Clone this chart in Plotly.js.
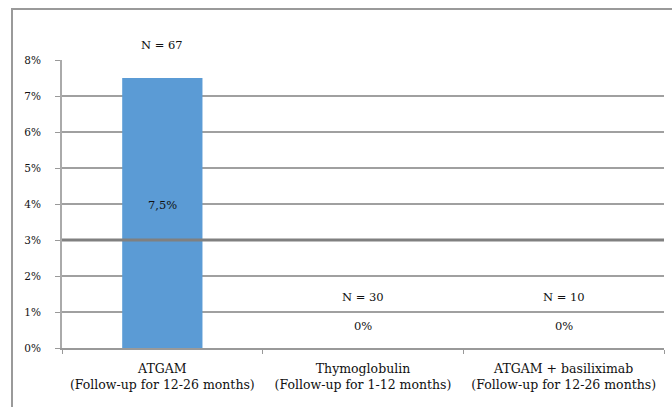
<!DOCTYPE html>
<html><head><meta charset="utf-8">
<script src="https://cdn.plot.ly/plotly-3.0.1.min.js"></script>
<style>body{margin:0;background:#fff}#wrap{position:relative;width:672px;height:407px}#c{width:672px;height:407px}
#frame{position:absolute;left:11px;top:8px;width:700px;height:450px;border-left:2px solid #9a9a9a;border-top:2px solid #9a9a9a;pointer-events:none}</style>
</head><body><div id="wrap"><div id="c"></div><div id="frame"></div></div>
<script>
const categories = ['ATGAM<br>(Follow-up for 12-26 months)', 'Thymoglobulin<br>(Follow-up for 1-12 months)', 'ATGAM + basiliximab<br>(Follow-up for 12-26 months)'];
const values = [7.5, 0, 0];
const valueLabels = ['7,5%', '0%', '0%'];
const nLabels = ['N = 67', 'N = 30', 'N = 10'];
const yTicks = [0, 1, 2, 3, 4, 5, 6, 7, 8];
const yMax = 8;

const font = {family: 'DejaVu Serif, Liberation Serif, serif', size: 11.5, color: '#111'};
const annotations = [];
categories.forEach((c, i) => {
  const v = values[i];
  annotations.push({x: c, y: (v > 0 ? v + 0.92 : 1.42) / yMax, text: nLabels[i], showarrow: false, xref: 'x', yref: 'paper', xanchor: 'center', yanchor: 'middle', font: font});
  annotations.push({x: c, y: (v > 0 ? v / 2 + 0.22 : 0.62) / yMax, text: valueLabels[i], showarrow: false, xref: 'x', yref: 'paper', xanchor: 'center', yanchor: 'middle', font: font});
});

const trace = {type: 'bar', x: categories, y: values, marker: {color: '#5b9bd5', line: {width: 0}}, hoverinfo: 'none'};

const layout = {
  width: 672, height: 407,
  margin: {l: 62, r: 8, t: 60, b: 59},
  paper_bgcolor: '#fff', plot_bgcolor: '#fff',
  showlegend: false,
  bargap: 0.6,
  font: font,
  xaxis: {type: 'category', tickson: 'boundaries', ticks: 'outside', ticklen: 4, tickcolor: '#999', tickwidth: 1,
          showline: true, linecolor: '#999', linewidth: 2, showgrid: false, ticklabelstandoff: 8,
          tickfont: {family: font.family, size: 12.5, color: '#111'}},
  yaxis: {range: [0, yMax], tickvals: yTicks, ticktext: yTicks.map(t => t + '%'), ticks: 'outside', ticklen: 5, tickcolor: '#999',
          showline: true, linecolor: '#aaa', linewidth: 2, showgrid: true, gridcolor: '#a0a0a0', gridwidth: 2, zeroline: false,
          ticklabelstandoff: 12, tickfont: {family: font.family, size: 10.5, color: '#111'}},
  annotations: annotations,
  shapes: [
    {type: 'line', xref: 'paper', yref: 'y', x0: 0, x1: 1, y0: 3, y1: 3, line: {color: '#808080', width: 3}}
  ]
};
Plotly.newPlot('c', [trace], layout, {staticPlot: true});
</script></body></html>
